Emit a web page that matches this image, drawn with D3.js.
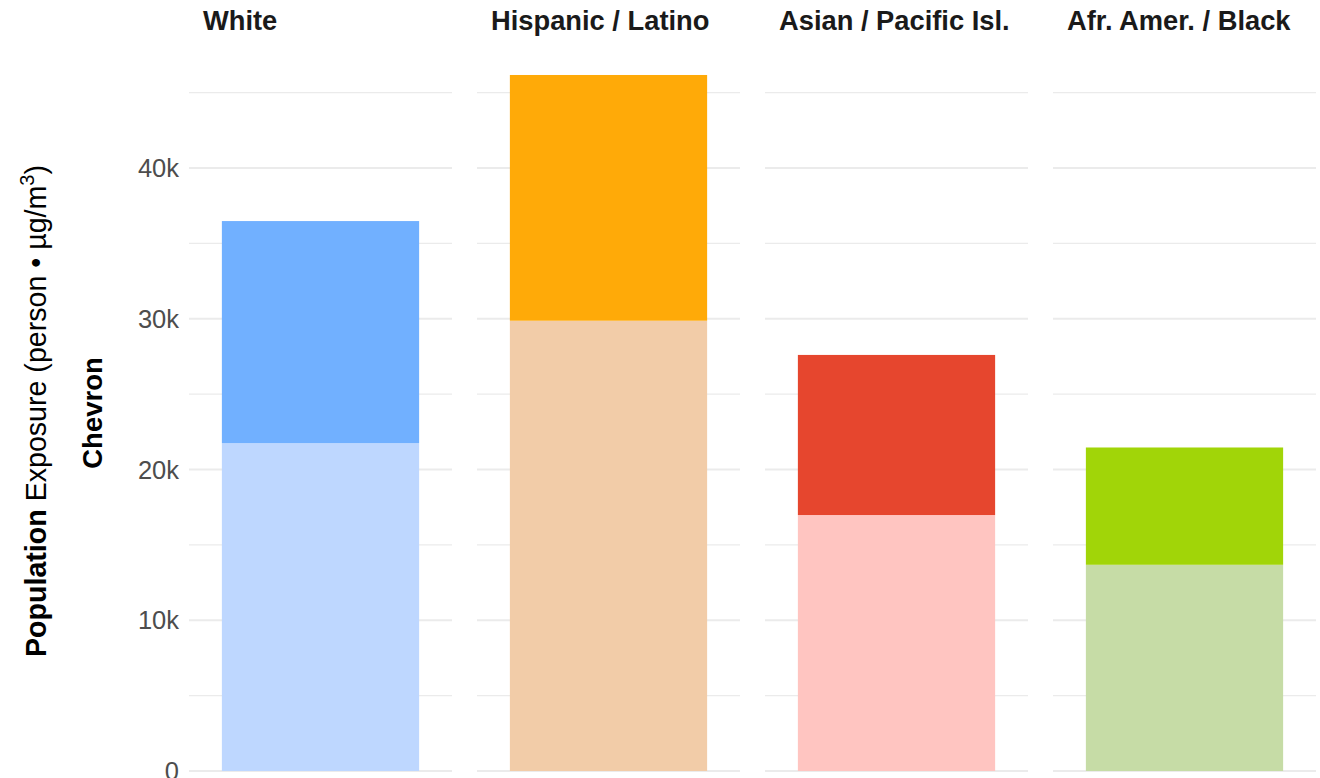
<!DOCTYPE html>
<html>
<head>
<meta charset="utf-8">
<script src="https://cdn.jsdelivr.net/npm/d3@7"></script>
<style>
  html, body { margin: 0; padding: 0; background: #ffffff; }
  svg { display: block; font-family: "Liberation Sans", Arial, Helvetica, sans-serif; }
</style>
</head>
<body>
<svg id="chart" width="1320" height="778"></svg>
<script>
// ---- data ----
const groups = ["White", "Hispanic / Latino", "Asian / Pacific Isl.", "Afr. Amer. / Black"];
const baseExposure = [21750, 29870, 16980, 13680];        // lighter lower segment
const additionalExposure = [14730, 16300, 10620, 7780];   // darker upper segment
const lowerColors = ["#BED7FF", "#F2CCA8", "#FFC5C1", "#C6DCA6"];
const upperColors = ["#71B0FF", "#FFAA08", "#E6462E", "#A1D508"];
const majorTicks = [0, 10000, 20000, 30000, 40000];
const minorTicks = [5000, 15000, 25000, 35000, 45000];
const tickLabels = ["0", "10k", "20k", "30k", "40k"];
const facetLabel = "Chevron";

// ---- layout ----
const svg = d3.select("#chart");
const panelLeft = 189, panelRight = 1316;
const y = d3.scaleLinear().domain([0, 40000]).range([771, 168]);
const facetX = d3.scaleBand().domain(groups).range([panelLeft, panelRight])
  .paddingInner(75 / 864).paddingOuter(0);
const inner = d3.scaleBand().domain(["Chevron"]).range([0, facetX.bandwidth()])
  .paddingInner(0.25).paddingOuter(0.125);

const rows = groups.map((g, i) => ({ group: g, base: baseExposure[i], extra: additionalExposure[i], i }));
const stacked = d3.stack().keys(["base", "extra"])(rows);

const panels = svg.selectAll("g.panel").data(groups).join("g")
  .attr("class", "panel")
  .attr("transform", g => `translate(${facetX(g)},0)`);

// gridlines
panels.each(function () {
  const p = d3.select(this);
  p.selectAll("line.minor").data(minorTicks).join("line")
    .attr("class", "minor")
    .attr("x1", 0).attr("x2", facetX.bandwidth())
    .attr("y1", d => y(d)).attr("y2", d => y(d))
    .attr("stroke", "#ebebeb").attr("stroke-width", 1.4);
  p.selectAll("line.major").data(majorTicks).join("line")
    .attr("class", "major")
    .attr("x1", 0).attr("x2", facetX.bandwidth())
    .attr("y1", d => y(d)).attr("y2", d => y(d))
    .attr("stroke", "#ebebeb").attr("stroke-width", 2);
});

// bars
stacked.forEach((layer, li) => {
  panels.append("rect")
    .data(layer)
    .attr("x", inner("Chevron"))
    .attr("width", inner.bandwidth())
    .attr("y", d => y(d[1]))
    .attr("height", d => y(d[0]) - y(d[1]))
    .attr("fill", d => (li === 0 ? lowerColors : upperColors)[d.data.i]);
});

// strip titles
panels.append("text")
  .attr("x", 14).attr("y", 30)
  .attr("font-size", 27.3).attr("font-weight", "bold").attr("fill", "#1a1a1a")
  .text(g => g);

// y axis tick labels
svg.append("g").selectAll("text").data(majorTicks).join("text")
  .attr("x", 179).attr("y", d => y(d)).attr("dy", "0.36em")
  .attr("text-anchor", "end").attr("font-size", 25.5).attr("fill", "#4d4d4d")
  .text((d, i) => tickLabels[i]);

// facet label
svg.append("text")
  .attr("transform", "translate(102,413) rotate(-90)")
  .attr("text-anchor", "middle").attr("font-size", 27.5).attr("font-weight", "bold").attr("fill", "#000")
  .text(facetLabel);

// y title
const yt = svg.append("text")
  .attr("transform", "translate(46,411) rotate(-90)")
  .attr("text-anchor", "middle").attr("font-size", 28.6).attr("fill", "#000");
yt.append("tspan").attr("font-weight", "bold").text("Population");
yt.append("tspan").text(" Exposure (person \u2022 \u00B5g/m");
yt.append("tspan").attr("font-size", 20).attr("dy", -12).text("3");
yt.append("tspan").attr("dy", 12).text(")");
</script>
</body>
</html>
